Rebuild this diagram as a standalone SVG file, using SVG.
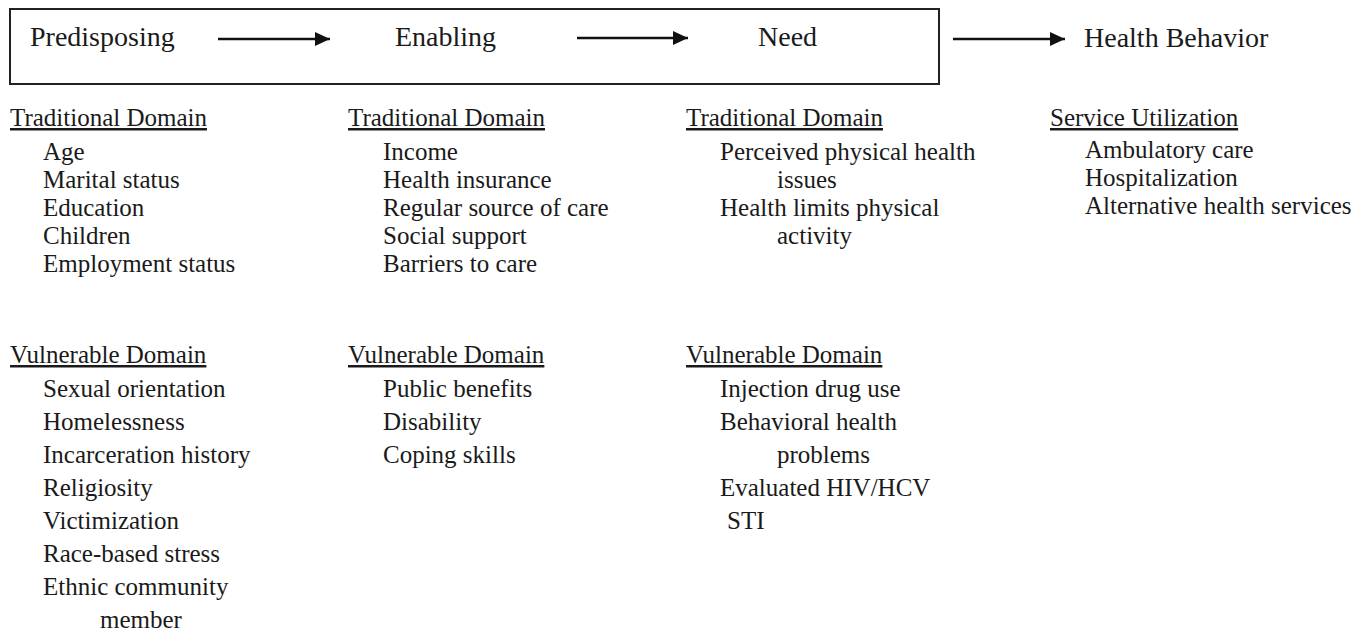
<svg xmlns="http://www.w3.org/2000/svg" width="1371" height="639" viewBox="0 0 1371 639">
<style>
text{font-family:"Liberation Serif","Times New Roman",serif;fill:#1a1a1a}
.top{font-size:28px}
.b{font-size:25px}
.h{font-size:25px;text-decoration:underline}
.arrow{stroke:#111;stroke-width:2.5;fill:none}
</style>
<defs>
<marker id="ah" markerUnits="userSpaceOnUse" markerWidth="16" markerHeight="16" refX="15" refY="7" orient="auto">
<path d="M0,0 L15,7 L0,14 Z" fill="#111"/>
</marker>
</defs>
<rect x="10" y="9" width="929" height="75" fill="none" stroke="#222" stroke-width="2"/>
<g id="predisposing"><text class="top" x="30" y="46">Predisposing</text></g>
<g id="enabling"><text class="top" x="395" y="46">Enabling</text></g>
<g id="need"><text class="top" x="758" y="46">Need</text></g>
<g id="health-behavior"><text class="top" x="1084" y="47">Health Behavior</text></g>
<g id="connectors">
<line class="arrow" x1="218" y1="39" x2="330" y2="39" marker-end="url(#ah)"/>
<line class="arrow" x1="577" y1="38" x2="688" y2="38" marker-end="url(#ah)"/>
<line class="arrow" x1="953" y1="39" x2="1065" y2="39" marker-end="url(#ah)"/>
</g>
<g id="predisposing-traditional">
<text class="h" x="10" y="126">Traditional Domain</text>
<text class="b" x="43" y="160">Age</text>
<text class="b" x="43" y="188">Marital status</text>
<text class="b" x="43" y="216">Education</text>
<text class="b" x="43" y="244">Children</text>
<text class="b" x="43" y="272">Employment status</text>
</g>
<g id="enabling-traditional">
<text class="h" x="348" y="126">Traditional Domain</text>
<text class="b" x="383" y="160">Income</text>
<text class="b" x="383" y="188">Health insurance</text>
<text class="b" x="383" y="216">Regular source of care</text>
<text class="b" x="383" y="244">Social support</text>
<text class="b" x="383" y="272">Barriers to care</text>
</g>
<g id="need-traditional">
<text class="h" x="686" y="126">Traditional Domain</text>
<text class="b" x="720" y="160">Perceived physical health</text>
<text class="b" x="777" y="188">issues</text>
<text class="b" x="720" y="216">Health limits physical</text>
<text class="b" x="777" y="244">activity</text>
</g>
<g id="service-utilization">
<text class="h" x="1050" y="126">Service Utilization</text>
<text class="b" x="1085" y="158">Ambulatory care</text>
<text class="b" x="1085" y="186">Hospitalization</text>
<text class="b" x="1085" y="214">Alternative health services</text>
</g>
<g id="predisposing-vulnerable">
<text class="h" x="10" y="363">Vulnerable Domain</text>
<text class="b" x="43" y="397">Sexual orientation</text>
<text class="b" x="43" y="430">Homelessness</text>
<text class="b" x="43" y="463">Incarceration history</text>
<text class="b" x="43" y="496">Religiosity</text>
<text class="b" x="43" y="529">Victimization</text>
<text class="b" x="43" y="562">Race-based stress</text>
<text class="b" x="43" y="595">Ethnic community</text>
<text class="b" x="100" y="628">member</text>
</g>
<g id="enabling-vulnerable">
<text class="h" x="348" y="363">Vulnerable Domain</text>
<text class="b" x="383" y="397">Public benefits</text>
<text class="b" x="383" y="430">Disability</text>
<text class="b" x="383" y="463">Coping skills</text>
</g>
<g id="need-vulnerable">
<text class="h" x="686" y="363">Vulnerable Domain</text>
<text class="b" x="720" y="397">Injection drug use</text>
<text class="b" x="720" y="430">Behavioral health</text>
<text class="b" x="777" y="463">problems</text>
<text class="b" x="720" y="496">Evaluated HIV/HCV</text>
<text class="b" x="727" y="529">STI</text>
</g>
</svg>
